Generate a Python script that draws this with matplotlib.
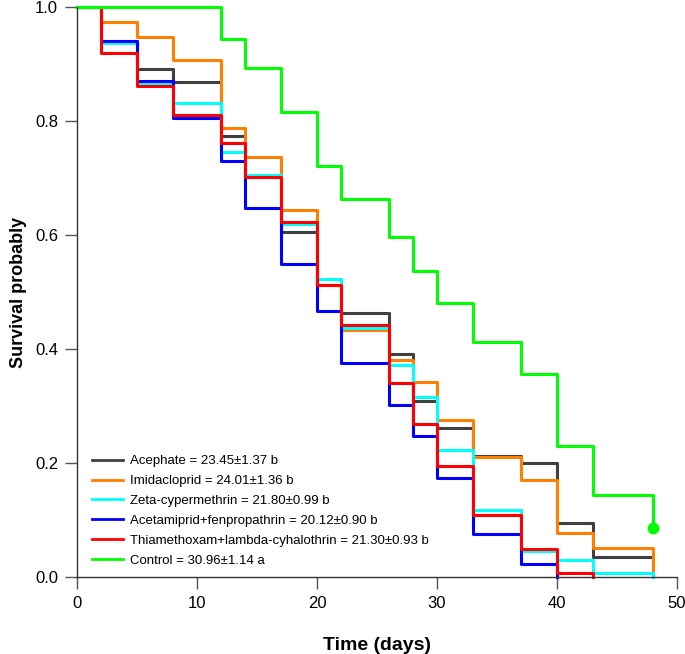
import matplotlib
matplotlib.use('Agg')
import matplotlib.pyplot as plt

plt.rcParams['font.family'] = ['Liberation Sans', 'DejaVu Sans']

# survival steps (time of each drop, survival after it)
days_acephate = [0, 2, 5, 8, 12, 14, 17, 20, 22, 26, 28, 30, 33, 37, 40, 43, 48]
surv_acephate = [1.0, 0.94, 0.892, 0.869, 0.774, 0.702, 0.606, 0.513, 0.464, 0.392, 0.308, 0.262, 0.213, 0.200, 0.094, 0.035, 0.035]

days_imida = [0, 2, 5, 8, 12, 14, 17, 20, 22, 26, 28, 30, 33, 37, 40, 43, 48]
surv_imida = [1.0, 0.973, 0.948, 0.907, 0.788, 0.736, 0.644, 0.513, 0.433, 0.381, 0.342, 0.275, 0.211, 0.170, 0.078, 0.051, 0.0]

days_zeta = [0, 2, 5, 8, 12, 14, 17, 20, 22, 26, 28, 30, 33, 37, 40, 43, 48]
surv_zeta = [1.0, 0.936, 0.865, 0.832, 0.745, 0.706, 0.619, 0.522, 0.436, 0.372, 0.316, 0.222, 0.118, 0.046, 0.030, 0.0075, 0.0]

days_acet = [0, 2, 5, 8, 12, 14, 17, 20, 22, 26, 28, 30, 33, 37, 40]
surv_acet = [1.0, 0.941, 0.870, 0.806, 0.729, 0.647, 0.549, 0.466, 0.375, 0.301, 0.248, 0.173, 0.075, 0.022, 0.0]

days_thia = [0, 2, 5, 8, 12, 14, 17, 20, 22, 26, 28, 30, 33, 37, 40, 43]
surv_thia = [1.0, 0.92, 0.862, 0.81, 0.761, 0.702, 0.622, 0.513, 0.442, 0.34, 0.268, 0.195, 0.108, 0.049, 0.0065, 0.0]

days_control = [0, 12, 14, 17, 20, 22, 26, 28, 30, 33, 37, 40, 43, 48]
surv_control = [1.0, 0.943, 0.893, 0.816, 0.721, 0.663, 0.596, 0.537, 0.48, 0.413, 0.356, 0.23, 0.144, 0.0865]

labels = ["Acephate = 23.45\u00b11.37 b",
          "Imidacloprid = 24.01\u00b11.36 b",
          "Zeta-cypermethrin = 21.80\u00b10.99 b",
          "Acetamiprid+fenpropathrin = 20.12\u00b10.90 b",
          "Thiamethoxam+lambda-cyhalothrin = 21.30\u00b10.93 b",
          "Control = 30.96\u00b11.14 a"]
colors = ["#404040", "#ff7f00", "#00ffff", "#0000ff", "#ff0000", "#00ff00"]

series = [(days_acephate, surv_acephate), (days_imida, surv_imida),
          (days_zeta, surv_zeta), (days_acet, surv_acet),
          (days_thia, surv_thia), (days_control, surv_control)]

fig = plt.figure(figsize=(6.85, 6.54), dpi=100)
ax = fig.add_axes([77/685, 1 - 577/654, 600/685, 570/654])

for (d, s), c, lab in zip(series, colors, labels):
    ax.step(d, s, where='post', color=c, lw=2.2, label=lab, clip_on=False)

# censor mark at the end of the control curve
ax.plot(days_control[-1], surv_control[-1], 'o', color="#00ff00", ms=7.5, clip_on=False)

ax.set_xlim(0, 50)
ax.set_ylim(0, 1)
ax.set_xticks([0, 10, 20, 30, 40, 50])
ax.set_yticks([0.0, 0.2, 0.4, 0.6, 0.8, 1.0])
ax.set_yticklabels(["0.0", "0.2", "0.4", "0.6", "0.8", "1.0"])
ax.tick_params(direction='out', length=8.5, width=1, color='#555555',
               labelsize=12, pad=5)
for side in ['top', 'right']:
    ax.spines[side].set_visible(False)
for side in ['left', 'bottom']:
    ax.spines[side].set_color('#333333')
    ax.spines[side].set_linewidth(1)

ax.set_xlabel("Time (days)", fontsize=14, fontweight='bold', labelpad=19)
ax.set_ylabel("Survival probably", fontsize=13, fontweight='bold', labelpad=6)

leg = ax.legend(loc='lower left', bbox_to_anchor=(0.025, 0.018), frameon=False,
                fontsize=9.5, handlelength=2.35, handletextpad=0.55,
                labelspacing=0.58, borderpad=0, borderaxespad=0)
for h in leg.get_lines():
    h.set_linewidth(2)

plt.savefig('out.png', dpi=100)
